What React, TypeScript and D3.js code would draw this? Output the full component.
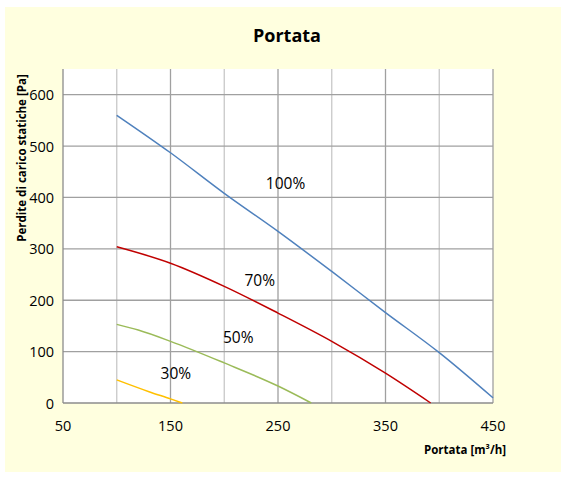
import * as d3 from 'd3';

// flow rate [m3/h] and static pressure losses [Pa]
const flow100 = [100, 150, 200, 250, 300, 350, 400, 450];
const pres100 = [560, 487, 408, 334, 256, 176, 98, 10];
const flow70 = [100, 150, 200, 250, 300, 350, 392];
const pres70 = [304, 272, 227, 175, 120, 58, 0];
const flow50 = [100, 120, 150, 200, 250, 281];
const pres50 = [153, 142, 120, 78, 33, 0];
const flow30 = [100, 130, 150, 161];
const pres30 = [45, 22, 8, 0];

const seriesNames = ['100%', '70%', '50%', '30%'];
const seriesColors = ['#4F81BD', '#C00000', '#9BBB59', '#FFC000'];
// label anchor points in data units
const labelFlow = [257, 233, 213, 155];
const labelPres = [428, 239, 128, 58];

const xTicks = [50, 150, 250, 350, 450];
const yTicks = [0, 100, 200, 300, 400, 500, 600];

const W = 566;
const H = 477;
const plot = { left: 63, right: 493, top: 69, bottom: 403 };
const font = "'Open Sans', 'Noto Sans', sans-serif";

export default function App() {
    const x = d3.scaleLinear().domain([50, 450]).range([plot.left, plot.right]);
    const y = d3.scaleLinear().domain([0, 650]).range([plot.bottom, plot.top]);

    const series = [
        { flow: flow100, pres: pres100 },
        { flow: flow70, pres: pres70 },
        { flow: flow50, pres: pres50 },
        { flow: flow30, pres: pres30 },
    ];

    const line = d3.line<[number, number]>()
        .x(d => x(d[0]))
        .y(d => y(d[1]))
        .curve(d3.curveMonotoneX);

    const vGrid = d3.range(100, 451, 50);
    const hGrid = yTicks.filter(t => t > 0);

    return (
        <div style={{ position: 'absolute', left: 0, top: 0 }}>
            <svg width={W} height={H} style={{ display: 'block', background: '#fff' }}>
                <rect x={5} y={7} width={556} height={465} fill="#FFFFDF" />
                <rect x={plot.left} y={plot.top} width={plot.right - plot.left} height={plot.bottom - plot.top} fill="#fff" />

                {vGrid.map(v => (
                    <line key={'v' + v} x1={x(v)} x2={x(v)} y1={plot.top} y2={plot.bottom}
                        stroke={v % 100 === 50 ? '#A0A0A0' : '#C8C8C8'} strokeWidth={1.3} />
                ))}
                {hGrid.map(v => (
                    <line key={'h' + v} x1={plot.left} x2={plot.right} y1={y(v)} y2={y(v)}
                        stroke="#A0A0A0" strokeWidth={1.3} />
                ))}
                <line x1={plot.left} x2={plot.left} y1={plot.top} y2={plot.bottom} stroke="#8C8C8C" strokeWidth={1.3} />
                <line x1={plot.left} x2={plot.right} y1={plot.bottom} y2={plot.bottom} stroke="#8C8C8C" strokeWidth={1.3} />

                {series.map((s, i) => (
                    <path key={seriesNames[i]}
                        d={line(s.flow.map((f, j) => [f, s.pres[j]] as [number, number])) || ''}
                        fill="none" stroke={seriesColors[i]} strokeWidth={1.5} />
                ))}

                {seriesNames.map((n, i) => (
                    <text key={'l' + n} x={x(labelFlow[i])} y={y(labelPres[i])} textAnchor="middle"
                        dominantBaseline="central" fontFamily={font} fontSize={15.5} fill="#000">{n}</text>
                ))}

                {yTicks.map(t => (
                    <text key={'yt' + t} x={54} y={y(t)} textAnchor="end" dominantBaseline="central"
                        fontFamily={font} fontSize={14.5} fill="#000">{t}</text>
                ))}
                {xTicks.map(t => (
                    <text key={'xt' + t} x={x(t)} y={425} textAnchor="middle" dominantBaseline="central"
                        fontFamily={font} fontSize={14.5} fill="#000">{t}</text>
                ))}

                <text x={287} y={35} textAnchor="middle" dominantBaseline="central"
                    fontFamily={font} fontSize={18} fontWeight="bold" fill="#000">Portata</text>
                <text transform="translate(21,158) rotate(-90)" textAnchor="middle" dominantBaseline="central"
                    fontFamily={font} fontSize={11.5} fontWeight="bold" fill="#000">Perdite di carico statiche [Pa]</text>
                <text x={506} y={449} textAnchor="end" dominantBaseline="central"
                    fontFamily={font} fontSize={11.5} fontWeight="bold" fill="#000">Portata [m³/h]</text>
            </svg>
        </div>
    );
}
